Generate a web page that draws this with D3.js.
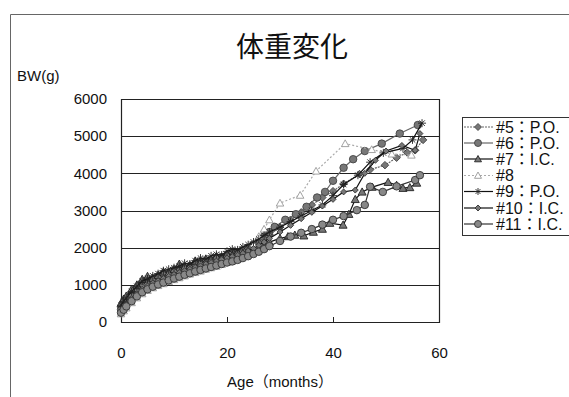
<!DOCTYPE html>
<html>
<head>
<meta charset="utf-8">
<script src="https://cdn.jsdelivr.net/npm/d3@7/dist/d3.min.js"></script>
<style>
  html, body { margin: 0; padding: 0; background: #fff; }
  svg { display: block; }
  text { font-family: "Liberation Sans", Arial, "Noto Sans CJK JP", sans-serif; fill: #111; }
</style>
</head>
<body>
<svg id="chart" width="569" height="397"></svg>
<script>
// Body weight (g) by age (months), one array of [age, weight] per animal
const s5 = [[0,380],[0.5,480],[1,560],[2,730],[3,850],[4,980],[5,1060],[6,1120],[7,1180],[8,1230],[9,1290],[10,1340],[11,1400],[12,1440],[13,1500],[14,1530],[15,1580],[16,1620],[17,1660],[18,1700],[19,1750],[20,1790],[21,1830],[22,1870],[23,1920],[24,1980],[25,2050],[26,2140],[27,2240],[28,2350],[30,2550],[32,2750],[34,2950],[36,3150],[38,3350],[40,3520],[42,3720],[45,3980],[47,4100],[49.8,4220],[52,4420],[54,4560],[55.5,4620],[57,4900]];
const s6 = [[0,330],[0.5,420],[1,500],[2,680],[3,800],[4,930],[5,1020],[6,1090],[7,1160],[8,1210],[9,1260],[10,1320],[11,1370],[12,1430],[13,1470],[14,1520],[15,1580],[16,1610],[17,1650],[18,1700],[19,1740],[20,1780],[21,1820],[22,1870],[23,1930],[24,2000],[25,2080],[26,2180],[27,2300],[28,2420],[29,2560],[31,2750],[33,2900],[35,3100],[37,3350],[38.5,3500],[40,3800],[42,4150],[43.8,4380],[46,4600],[49.2,4800],[52.6,5070],[56,5300]];
const s7 = [[0,500],[0.5,620],[1,700],[2,880],[3,1000],[4,1150],[5,1230],[6,1180],[7,1260],[8,1350],[9,1320],[10,1420],[11,1560],[12,1480],[13,1520],[14,1640],[15,1600],[16,1700],[17,1680],[18,1760],[19,1740],[20,1830],[21,1800],[22,1880],[23,1850],[24,1930],[25,1900],[26,1980],[27,2060],[28,2150],[30,2250],[31.5,2300],[32.8,2340],[34.5,2320],[36.3,2420],[38,2500],[39.4,2660],[41.9,2610],[43,2900],[44.2,3300],[45.5,3500],[47.4,3630],[50.4,3760],[52,3680],[53.2,3600],[54.5,3620],[55.8,3740]];
const s8 = [[0,220],[0.5,300],[1,380],[2,520],[3,650],[4,760],[5,850],[6,920],[7,980],[8,1030],[9,1090],[10,1140],[11,1190],[12,1240],[13,1290],[14,1330],[15,1370],[16,1420],[17,1460],[18,1500],[19,1550],[20,1600],[21,1640],[22,1690],[23,1760],[24,1900],[25,2100],[26,2300],[27,2500],[28,2750],[30,3200],[33.8,3410],[36.8,4060],[42.3,4800],[47.3,4640],[51.1,4520],[54.8,4490]];
const s9 = [[0,450],[0.5,560],[1,650],[2,820],[3,960],[4,1100],[5,1160],[6,1240],[7,1300],[8,1380],[9,1420],[10,1460],[11,1500],[12,1580],[13,1560],[14,1650],[15,1720],[16,1690],[17,1780],[18,1820],[19,1800],[20,1900],[21,1960],[22,1940],[23,2020],[24,2080],[25,2150],[26,2230],[27,2330],[28,2420],[30,2550],[32,2700],[34,2850],[36,3000],[38,3150],[40,3400],[42,3700],[44.7,3950],[47,4300],[49.5,4550],[53.2,4670],[55,4900],[56.8,5350]];
const s10 = [[0,300],[0.5,390],[1,470],[2,630],[3,760],[4,880],[5,970],[6,1050],[7,1110],[8,1170],[9,1230],[10,1280],[11,1330],[12,1380],[13,1420],[14,1470],[15,1510],[16,1560],[17,1600],[18,1640],[19,1680],[20,1720],[21,1760],[22,1800],[23,1850],[24,1910],[25,1980],[26,2060],[27,2150],[28,2250],[30,2420],[32,2600],[34,2780],[36,2950],[38,3120],[40,3300],[42,3500],[44.2,3550],[46,4000],[48,4350],[50,4600],[53,4750],[55.5,4620],[56.4,5070]];
const s11 = [[0,250],[0.5,330],[1,420],[2,560],[3,690],[4,800],[5,880],[6,950],[7,1010],[8,1060],[9,1120],[10,1170],[11,1220],[12,1270],[13,1310],[14,1360],[15,1400],[16,1440],[17,1480],[18,1520],[19,1560],[20,1600],[21,1630],[22,1670],[23,1720],[24,1770],[25,1830],[26,1890],[27,1960],[28,2040],[30,2180],[32,2300],[34,2400],[36,2500],[38,2620],[40,2750],[42,2850],[44.5,3010],[46,3150],[47,3640],[49.4,3500],[52,3650],[55.5,3820],[56.4,3950]];

const seriesNames = ["#5\uFF1AP.O.", "#6\uFF1AP.O.", "#7\uFF1AI.C.", "#8", "#9\uFF1AP.O.", "#10\uFF1AI.C.", "#11\uFF1AI.C."];
const xTicks = [0, 20, 40, 60];
const yTicks = [0, 1000, 2000, 3000, 4000, 5000, 6000];

const seriesData = [s5, s6, s7, s8, s9, s10, s11];
const styles = [
  { stroke: "#666", dash: "2,1", marker: "diamond", size: 7.5, fill: "#777", mstroke: "#444" },
  { stroke: "#666", dash: null, marker: "circle", size: 7.5, fill: "#777", mstroke: "#444" },
  { stroke: "#111", dash: null, marker: "triangle", size: 8, fill: "#777", mstroke: "#222" },
  { stroke: "#aaa", dash: "2,2", marker: "triangle", size: 7.5, fill: "#fff", mstroke: "#999" },
  { stroke: "#111", dash: null, marker: "asterisk", size: 8, fill: "none", mstroke: "#222" },
  { stroke: "#111", dash: null, marker: "diamond", size: 6, fill: "#777", mstroke: "#333" },
  { stroke: "#333", dash: null, marker: "circle", size: 7.5, fill: "#888", mstroke: "#333" }
];

const svg = d3.select("#chart");
const x = d3.scaleLinear().domain([0, 60]).range([121, 439]);
const y = d3.scaleLinear().domain([0, 6000]).range([322, 99]);

// outer chart frame (left and top edges)
svg.append("path")
  .attr("d", "M10.5,397 L10.5,14.5 L569,14.5")
  .attr("fill", "none").attr("stroke", "#666").attr("stroke-width", 1);

// title and axis titles
svg.append("text").attr("x", 292).attr("y", 57).attr("text-anchor", "middle")
  .style("font-family", "'Noto Sans CJK JP', sans-serif").style("font-size", "28px")
  .style("font-weight", 400)
  .text("体重変化");
svg.append("text").attr("x", 17).attr("y", 81).style("font-size", "15px").text("BW(g)");
svg.append("text").attr("x", 280).attr("y", 387).attr("text-anchor", "middle")
  .style("font-size", "15px").text("Age\uFF08months\uFF09");

// gridlines
svg.append("g").selectAll("line").data(yTicks.filter(d => d > 0)).join("line")
  .attr("x1", x(0)).attr("x2", x(60))
  .attr("y1", d => Math.round(y(d)) + 0.5).attr("y2", d => Math.round(y(d)) + 0.5)
  .attr("stroke", "#222").attr("stroke-width", 1);

// plot frame
svg.append("path")
  .attr("d", `M${x(0)+0.5},${y(6000)} L${x(0)+0.5},${y(0)+0.5} L${x(60)+0.5},${y(0)+0.5} L${x(60)+0.5},${y(6000)}`)
  .attr("fill", "none").attr("stroke", "#222").attr("stroke-width", 1.2);

// axes
const yAxis = d3.axisLeft(y).tickValues(yTicks).tickSize(0).tickPadding(14).tickFormat(d3.format("d"));
const gy = svg.append("g").attr("transform", `translate(${x(0)},0)`).call(yAxis);
gy.select(".domain").remove();
gy.selectAll("text").style("font-size", "15px").style("font-family", "'Liberation Sans', Arial, sans-serif").attr("fill", "#111");

const xAxis = d3.axisBottom(x).tickValues(xTicks).tickSize(-5).tickPadding(25).tickFormat(d3.format("d"));
const gx = svg.append("g").attr("transform", `translate(0,${y(0)})`).call(xAxis);
gx.select(".domain").remove();
gx.selectAll("line").attr("stroke", "#222");
gx.selectAll("text").style("font-size", "15px").style("font-family", "'Liberation Sans', Arial, sans-serif").attr("fill", "#111");

function markerPath(type, s) {
  const h = s / 2;
  if (type === "diamond") return `M0,${-h}L${h},0L0,${h}L${-h},0Z`;
  if (type === "triangle") return `M0,${-h}L${h},${h*0.8}L${-h},${h*0.8}Z`;
  if (type === "circle") return d3.symbol(d3.symbolCircle, Math.PI * h * h)();
  if (type === "asterisk") return `M${-h},0L${h},0M0,${-h}L0,${h}M${-h*0.7},${-h*0.7}L${h*0.7},${h*0.7}M${-h*0.7},${h*0.7}L${h*0.7},${-h*0.7}`;
  return "";
}

const line = d3.line().x(d => x(d[0])).y(d => y(d[1]));

seriesData.forEach((data, i) => {
  const st = styles[i];
  const g = svg.append("g");
  g.append("path").datum(data).attr("d", line)
    .attr("fill", "none").attr("stroke", st.stroke).attr("stroke-width", 1.2)
    .attr("stroke-dasharray", st.dash);
  g.selectAll("path.m").data(data).join("path").attr("class", "m")
    .attr("transform", d => `translate(${x(d[0])},${y(d[1])})`)
    .attr("d", markerPath(st.marker, st.size))
    .attr("fill", st.fill).attr("stroke", st.mstroke).attr("stroke-width", 0.9);
});

// legend
const legend = svg.append("g");
legend.append("rect").attr("x", 462.5).attr("y", 117.5).attr("width", 120).attr("height", 118)
  .attr("fill", "#fff").attr("stroke", "#333").attr("stroke-width", 1);
const rowY = [127, 143, 159, 175.5, 191.5, 208, 224];
seriesNames.forEach((name, i) => {
  const st = styles[i];
  const yy = rowY[i];
  legend.append("line").attr("x1", 464).attr("x2", 493).attr("y1", yy).attr("y2", yy)
    .attr("stroke", st.stroke).attr("stroke-width", 1.2).attr("stroke-dasharray", st.dash);
  legend.append("path").attr("transform", `translate(478,${yy})`)
    .attr("d", markerPath(st.marker, Math.min(st.size, 7))).attr("fill", st.fill)
    .attr("stroke", st.mstroke).attr("stroke-width", 0.9);
  legend.append("text").attr("x", 496).attr("y", yy + 5.5).style("font-size", "16px").text(name);
});
</script>
</body>
</html>
